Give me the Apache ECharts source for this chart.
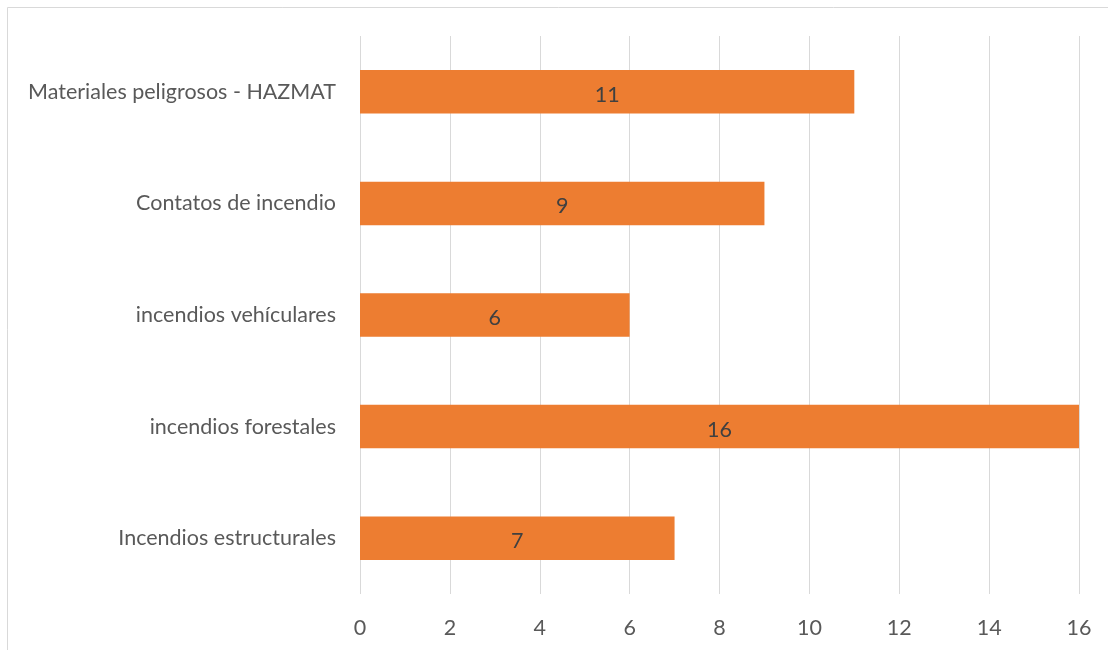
<!DOCTYPE html>
<html>
<head>
<meta charset="utf-8">
<script src="https://cdn.jsdelivr.net/npm/echarts@6/dist/echarts.min.js"></script>
<style>
  html, body { margin: 0; padding: 0; background: #ffffff; }
  #chart { width: 1108px; height: 650px; }
</style>
</head>
<body>
<div id="chart"></div>
<script>
// Emergency categories (bottom to top) and incident counts
const categories = [
  'Incendios estructurales',
  'incendios forestales',
  'incendios vehículares',
  'Contatos de incendio',
  'Materiales peligrosos - HAZMAT'
];
const counts = [7, 16, 6, 9, 11];
const axisMin = 0;
const axisMax = 16;
const axisStep = 2;

const FONT = 'Lato, "Open Sans", sans-serif';
const FONT_SIZE = 21.5;
const chart = echarts.init(document.getElementById('chart'), null, { renderer: 'canvas' });

chart.setOption({
  backgroundColor: '#ffffff',
  animation: false,
  graphic: [{
    type: 'rect',
    silent: true,
    shape: { x: 7.5, y: 7.5, width: 1300, height: 900 },
    style: { fill: 'none', stroke: '#d9d9d9', lineWidth: 1 }
  }],
  grid: { left: 360, right: 29, top: 36, bottom: 56, containLabel: false },
  xAxis: {
    type: 'value',
    min: axisMin,
    max: axisMax,
    interval: axisStep,
    axisLine: { show: false },
    axisTick: { show: false },
    axisLabel: { color: '#595959', fontFamily: FONT, fontSize: FONT_SIZE, margin: 23 },
    splitLine: { show: true, lineStyle: { color: '#d9d9d9', width: 1 } }
  },
  yAxis: {
    type: 'category',
    data: categories,
    axisLine: { show: false },
    axisTick: { show: false },
    axisLabel: {
      color: '#595959', fontFamily: FONT, fontSize: FONT_SIZE, margin: 24,
      padding: [6, 0, 0, 0]
    },
    splitLine: { show: false }
  },
  series: [{
    type: 'bar',
    data: counts,
    barCategoryGap: '61%',
    itemStyle: { color: '#ed7d31' },
    label: {
      show: true,
      position: 'inside',
      offset: [0, 3],
      color: '#404040',
      fontFamily: FONT,
      fontSize: FONT_SIZE
    }
  }]
});
</script>
</body>
</html>
